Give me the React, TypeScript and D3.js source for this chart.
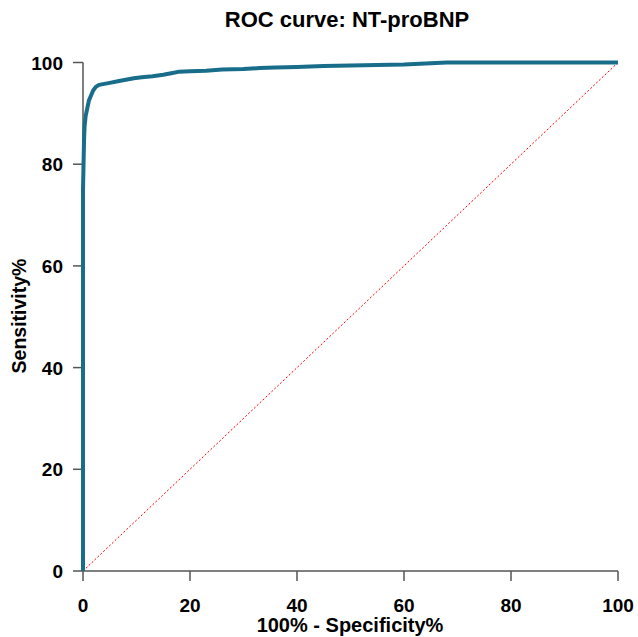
import React from "react";
import * as d3 from "d3";

const fpr = [0, 0, 0, 0.1, 0.2, 0.3, 0.5, 0.8, 1.1, 1.5, 1.9, 2.4, 3.0, 4.0, 5.0, 6.5, 8, 9.5, 11, 13, 15, 16.5, 18, 20, 23, 26, 30, 33, 36, 40, 45, 50, 55, 60, 64, 68, 100];
const tpr = [0, 40, 75, 80, 85, 87.5, 89.5, 91, 92.5, 93.5, 94.5, 95.2, 95.6, 95.8, 96.0, 96.3, 96.6, 96.9, 97.1, 97.3, 97.6, 97.9, 98.2, 98.3, 98.4, 98.6, 98.7, 98.9, 99.0, 99.1, 99.3, 99.4, 99.5, 99.6, 99.8, 100, 100];
const ticks = [0, 20, 40, 60, 80, 100];
const title = "ROC curve: NT-proBNP";
const xLabel = "100% - Specificity%";
const yLabel = "Sensitivity%";

export default function App() {
  const W = 638, H = 637;
  const x = d3.scaleLinear().domain([0, 100]).range([83, 618]);
  const y = d3.scaleLinear().domain([0, 100]).range([571, 62.5]);
  const pts: [number, number][] = fpr.map((f, i) => [f, tpr[i]]);
  const line = d3.line<[number, number]>().x(d => x(d[0])).y(d => y(d[1]));
  const font = "'Liberation Sans', Arial, sans-serif";
  const axisColor = "#555";
  return (
    <svg width={W} height={H} style={{ position: "absolute", left: 0, top: 0 }} fontFamily={font}>
      <rect width={W} height={H} fill="#fff" />
      <text x={347} y={27} textAnchor="middle" fontWeight="bold" fontSize={22}>{title}</text>
      {/* axes */}
      <line x1={x(0)} x2={x(100)} y1={y(0)} y2={y(0)} stroke={axisColor} strokeWidth={1.5} />
      <line x1={x(0)} x2={x(0)} y1={y(0)} y2={y(100)} stroke={axisColor} strokeWidth={1.5} />
      {ticks.map(t => (
        <g key={"x" + t}>
          <line x1={x(t)} x2={x(t)} y1={y(0)} y2={y(0) + 10} stroke={axisColor} strokeWidth={1.5} />
          <text x={x(t)} y={612} textAnchor="middle" fontWeight="bold" fontSize={19}>{t}</text>
        </g>
      ))}
      {ticks.map(t => (
        <g key={"y" + t}>
          <line x1={x(0) - 10} x2={x(0)} y1={y(t)} y2={y(t)} stroke={axisColor} strokeWidth={1.5} />
          <text x={63} y={y(t) + 7} textAnchor="end" fontWeight="bold" fontSize={19}>{t}</text>
        </g>
      ))}
      <text x={350} y={632} textAnchor="middle" fontWeight="bold" fontSize={20}>{xLabel}</text>
      <text transform={`translate(26,316) rotate(-90)`} textAnchor="middle" fontWeight="bold" fontSize={19.5}>{yLabel}</text>
      {/* diagonal */}
      <line x1={x(0)} y1={y(0)} x2={x(100)} y2={y(100)} stroke="#ff0000" strokeWidth={1} strokeDasharray="2,2" />
      {/* ROC curve */}
      <path d={line(pts) || ""} fill="none" stroke="#186d8b" strokeWidth={4} strokeLinejoin="round" />
    </svg>
  );
}
